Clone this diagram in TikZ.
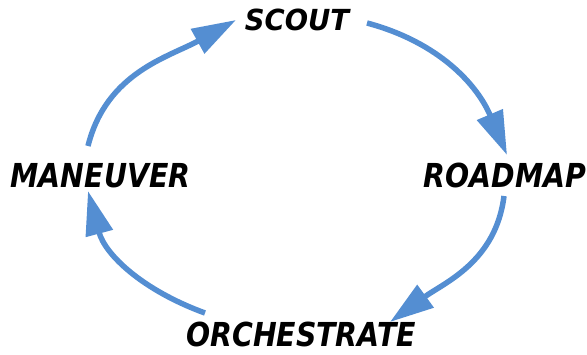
\documentclass[tikz,border=0pt]{standalone}
\usepackage{fontspec}
\setmainfont{DejaVu Sans}
\usetikzlibrary{arrows.meta}
\definecolor{cycleblue}{RGB}{84,142,210}
\tikzset{
  phase/.style={inner sep=0pt, text=black, font=\fontsize{33}{33}\selectfont\bfseries\itshape, xscale=0.86},
  flow/.style={draw=cycleblue, line width=5.5pt,
    -{Triangle[length=44pt,width=27pt,fill=cycleblue]}}
}
\begin{document}
\begin{tikzpicture}[x=1pt,y=1pt]
  \useasboundingbox (0,0) rectangle (587,354);
  % the four phases of the cycle
  \node[phase, font=\fontsize{29}{29}\selectfont\bfseries\itshape, xscale=1.1] (scout) at (297,334.5) {SCOUT};
  \node[phase] (road) at (505,179) {ROADMAP};
  \node[phase] (orch) at (301,19.5) {ORCHESTRATE};
  \node[phase] (man) at (100.5,178.5) {MANEUVER};
  % curved arrows running clockwise between the phases
  \draw[flow] ([shift={(-12.5,29.5)}]man.center) to[out=76,in=209] ([shift={(-61,-0.5)}]scout.center);
  \draw[flow] ([shift={(70,-3.5)}]scout.center) to[out=-15,in=113] ([shift={(2,20)}]road.center);
  \draw[flow] ([shift={(-1,-21)}]road.center) to[out=-97,in=36] ([shift={(89,12.5)}]orch.center);
  \draw[flow] ([shift={(-96,21.5)}]orch.center) to[out=160,in=-75] ([shift={(-12.5,-15.5)}]man.center);
\end{tikzpicture}
\end{document}
